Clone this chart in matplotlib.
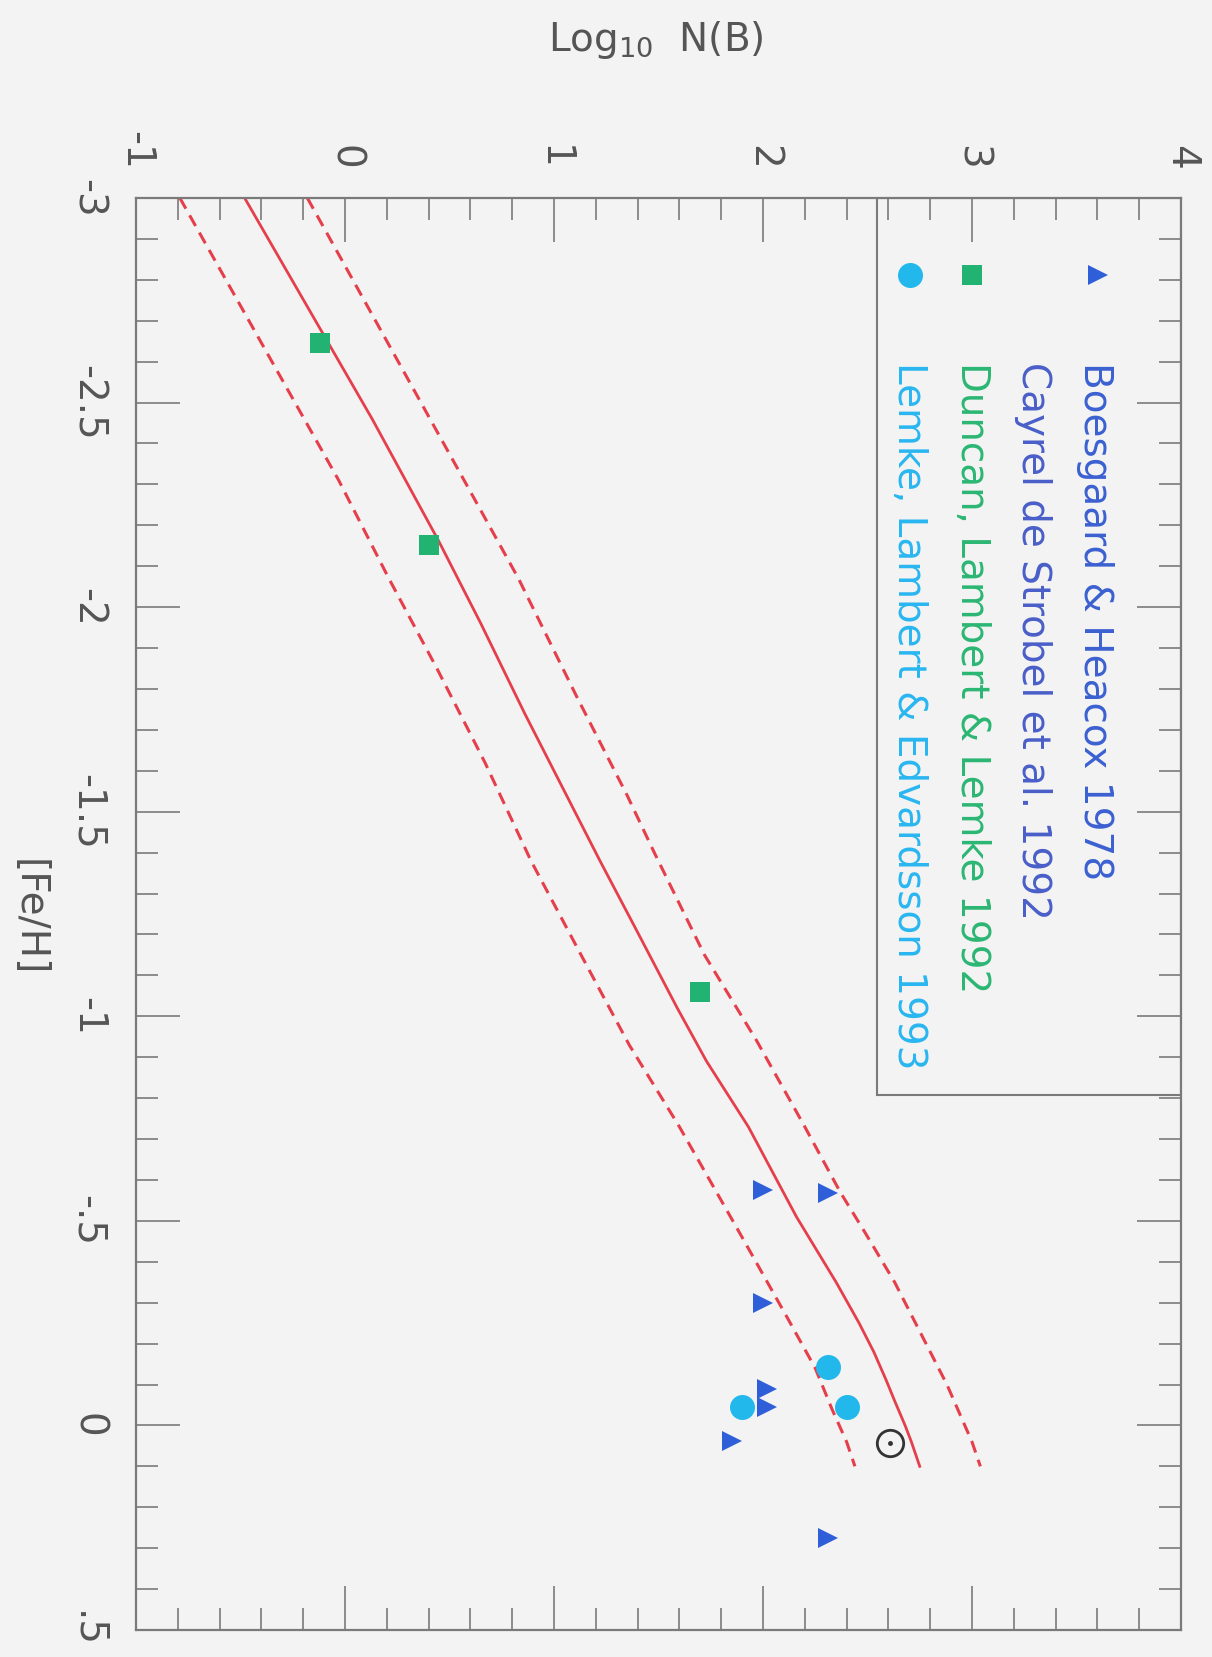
import matplotlib.pyplot as plt
from matplotlib.ticker import MultipleLocator
from matplotlib.patches import Rectangle

# boron abundance vs metallicity, drawn the way the page is printed (rotated):
# log N(B) runs across, [Fe/H] runs down the page

boes_feh = [-0.575, -0.567, -0.30, -0.09, -0.044, 0.037, 0.276]
boes_logn = [2.00, 2.31, 2.00, 2.02, 2.02, 1.85, 2.31]

duncan_feh = [-2.645, -2.152, -1.059]
duncan_logn = [-0.12, 0.40, 1.70]

lemke_feh = [-0.142, -0.044, -0.044]
lemke_logn = [2.31, 2.40, 1.90]

sun_feh = [0.044]
sun_logn = [2.61]

# model curve and its +- band
model_feh = [-3.0, -2.46, -2.31, -2.16, -1.96, -1.74, -1.58, -1.38, -1.22, -1.02,
             -0.89, -0.73, -0.51, -0.35, -0.25, -0.18, -0.11, -0.06, 0.0, 0.04, 0.10]
model_logn = [-0.48, 0.13, 0.29, 0.45, 0.65, 0.86, 1.02, 1.22, 1.385, 1.59,
              1.73, 1.93, 2.16, 2.35, 2.46, 2.53, 2.59, 2.63, 2.68, 2.71, 2.75]

low_feh = [-3.0, -2.31, -2.07, -1.85, -1.62, -1.38, -1.14, -0.93, -0.73, -0.46,
           -0.26, -0.14, -0.04, 0.04, 0.10]
low_logn = [-0.79, -0.03, 0.21, 0.44, 0.67, 0.89, 1.14, 1.36, 1.60, 1.90,
            2.12, 2.25, 2.33, 2.40, 2.44]

up_feh = [-3.0, -2.31, -2.07, -1.78, -1.54, -1.40, -1.15, -0.94, -0.73, -0.57,
          -0.47, -0.35, -0.23, -0.10, 0.04, 0.10]
up_logn = [-0.18, 0.57, 0.83, 1.11, 1.35, 1.48, 1.72, 1.97, 2.20, 2.37,
           2.49, 2.63, 2.75, 2.88, 3.00, 3.04]

logn_ticks = [-1, 0, 1, 2, 3, 4]
logn_labels = ['-1', '0', '1', '2', '3', '4']
feh_ticks = [-3, -2.5, -2, -1.5, -1, -0.5, 0, 0.5]
feh_labels = ['-3', '-2.5', '-2', '-1.5', '-1', '-.5', '0', '.5']

legend_names = ['Boesgaard & Heacox 1978', 'Cayrel de Strobel et al. 1992',
                'Duncan, Lambert & Lemke 1992', 'Lemke, Lambert & Edvardsson 1993']

BG = '#f3f3f3'
GRAY = '#7a7a7a'
RED = '#e53f4c'
BLUE = '#2f5fd8'
GREEN = '#22b372'
CYAN = '#22b8ec'
TXT_COLORS = ['#3b60d0', '#4a5ec8', '#2bb673', '#29b6f0']

plt.rcParams['font.family'] = ['DejaVu Sans']
FS = 28

fig = plt.figure(figsize=(12.12, 16.57), dpi=100, facecolor=BG)
ax = fig.add_axes([0.1122, 0.0163, 0.8622, 0.8642])
ax.set_facecolor(BG)

ax.plot(model_logn, model_feh, color=RED, lw=2.0)
ax.plot(low_logn, low_feh, color=RED, lw=2.2, dashes=(4, 2.5))
ax.plot(up_logn, up_feh, color=RED, lw=2.2, dashes=(4, 2.5))

ax.plot(duncan_logn, duncan_feh, 's', color=GREEN, ms=15, mew=0)
ax.plot(boes_logn, boes_feh, '>', color=BLUE, ms=15, mew=0)
ax.plot(lemke_logn, lemke_feh, 'o', color=CYAN, ms=18, mew=0)
ax.plot(sun_logn, sun_feh, 'o', mfc='none', mec='#333333', mew=2, ms=19)
ax.plot(sun_logn, sun_feh, '.', color='#333333', ms=5)

ax.set_xlim(-1, 4)
ax.set_ylim(0.5, -3)

ax.set_xticks(logn_ticks, labels=logn_labels)
ax.set_yticks(feh_ticks, labels=feh_labels)
ax.xaxis.set_minor_locator(MultipleLocator(0.2))
ax.yaxis.set_minor_locator(MultipleLocator(0.1))

ax.tick_params(which='both', direction='in', color=GRAY, width=1.2,
               top=True, bottom=True, left=True, right=True,
               labeltop=True, labelbottom=False, labelsize=FS, labelcolor='#555555')
ax.tick_params(which='major', length=32)
ax.tick_params(which='minor', length=16)
ax.tick_params(axis='x', pad=20)
ax.tick_params(axis='y', pad=21)

for lbl in ax.get_xticklabels():
    lbl.set_rotation(-90)
    lbl.set_rotation_mode('default')
    lbl.set_ha('center')
    lbl.set_va('bottom')
for lbl in ax.get_yticklabels():
    lbl.set_rotation(-90)
    lbl.set_rotation_mode('default')
    lbl.set_ha('right')
    lbl.set_va('center')

for sp in ax.spines.values():
    sp.set_color(GRAY)
    sp.set_linewidth(1.6)

# legend, built by hand because the text runs down the page
ax.add_patch(Rectangle((0.709, 0.3736), 0.291, 0.6264, transform=ax.transAxes,
                       fill=False, edgecolor=GRAY, lw=1.5))
ax.plot([0.921], [0.946], '>', color=BLUE, ms=15, mew=0, transform=ax.transAxes, clip_on=False)
ax.plot([0.800], [0.946], 's', color=GREEN, ms=14, mew=0, transform=ax.transAxes, clip_on=False)
ax.plot([0.741], [0.946], 'o', color=CYAN, ms=18, mew=0, transform=ax.transAxes, clip_on=False)
for xa, name, c in zip([0.918, 0.858, 0.800, 0.740], legend_names, TXT_COLORS):
    ax.text(xa, 0.8855, name, color=c, fontsize=FS, rotation=-90,
            ha='center', va='top', transform=ax.transAxes)

fig.text(656 / 1212, 1 - 40 / 1657, 'Log$_{10}$  N(B)', fontsize=FS, color='#555555',
         ha='center', va='center')
fig.text(29 / 1212, 1 - 918 / 1657, '[Fe/H]', fontsize=FS, color='#555555',
         rotation=-90, ha='center', va='center')

fig.savefig('out.png', dpi=100, facecolor=BG)
